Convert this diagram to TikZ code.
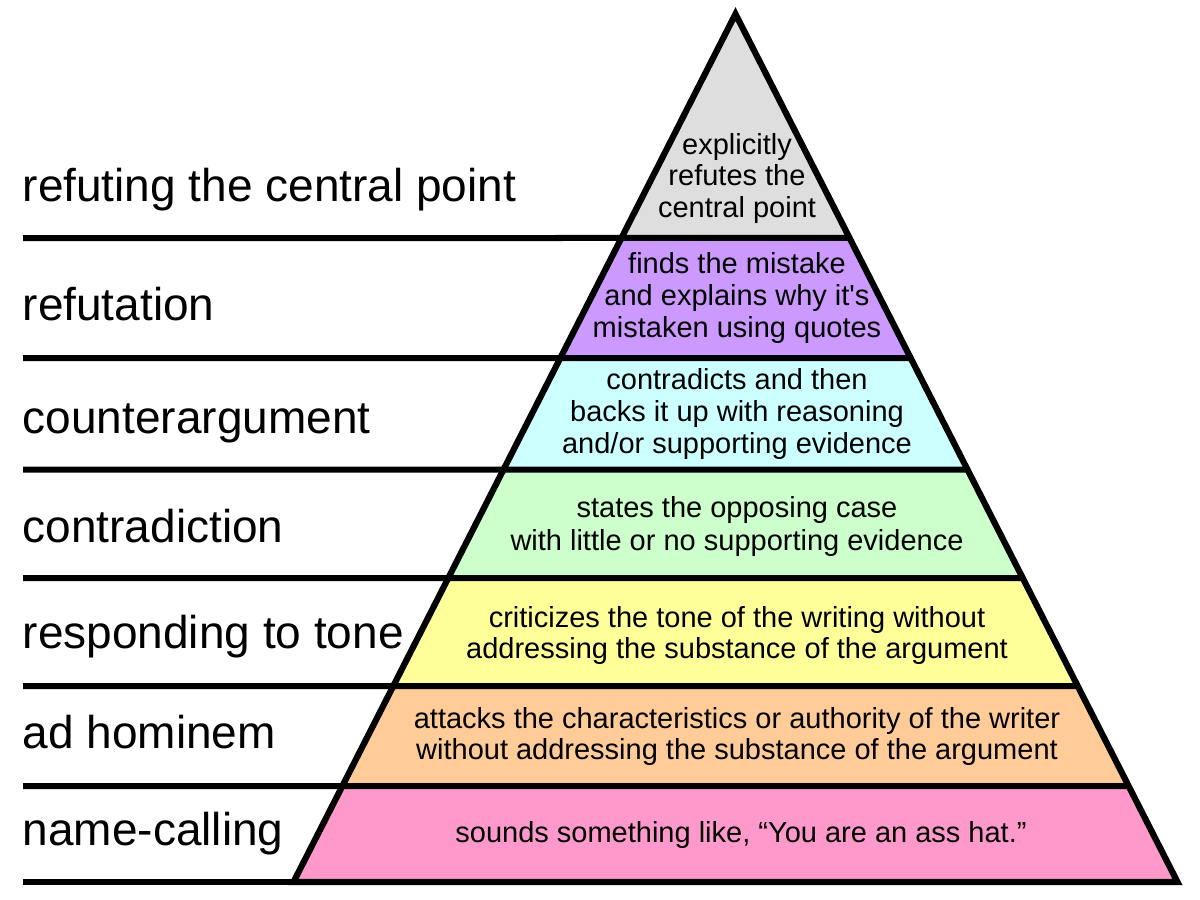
\documentclass[tikz,border=0pt]{standalone}
\usepackage{fontspec}
\setmainfont{Liberation Sans}
\usetikzlibrary{calc}
\definecolor{cgray}{HTML}{DEDEDE}
\definecolor{cpurple}{HTML}{CC99FF}
\definecolor{ccyan}{HTML}{CCFFFF}
\definecolor{cgreen}{HTML}{CCFFCC}
\definecolor{cyellow}{HTML}{FFFF99}
\definecolor{corange}{HTML}{FFCC99}
\definecolor{cpink}{HTML}{FF99CC}
\tikzset{
  rule/.style={line width=6pt, line cap=butt},
  outline/.style={line width=6.2pt, line join=miter},
  lefttext/.style={anchor=base west, inner sep=0pt, font=\fontsize{46}{54}\selectfont},
  intext/.style={anchor=base, inner sep=0pt, font=\fontsize{29}{32}\selectfont},
}
\begin{document}
\begin{tikzpicture}[x=1pt,y=-1pt]
\useasboundingbox[fill=white] (0,0) rectangle (1200,900);
\coordinate (A) at (735.5,14);
\coordinate (BL) at (293.5,882);
\coordinate (BR) at (1177.5,882);
% boundaries on left and right edges
\coordinate (L1) at ($(A)!0.25806!(BL)$); \coordinate (R1) at ($(A)!0.25806!(BR)$);
\coordinate (L2) at ($(A)!0.39631!(BL)$); \coordinate (R2) at ($(A)!0.39631!(BR)$);
\coordinate (L3) at ($(A)!0.52477!(BL)$); \coordinate (R3) at ($(A)!0.52477!(BR)$);
\coordinate (L4) at ($(A)!0.64977!(BL)$); \coordinate (R4) at ($(A)!0.64977!(BR)$);
\coordinate (L5) at ($(A)!0.77419!(BL)$); \coordinate (R5) at ($(A)!0.77419!(BR)$);
\coordinate (L6) at ($(A)!0.88940!(BL)$); \coordinate (R6) at ($(A)!0.88940!(BR)$);
% left ends of rules
\coordinate (S1) at (23,238);
\coordinate (S2) at (23,358);
\coordinate (S3) at (23,469.5);
\coordinate (S4) at (23,578);
\coordinate (S5) at (23,686);
\coordinate (S6) at (23,786);
\coordinate (S7) at (23,882);
% bands
\fill[cgray] (A) -- (R1) -- (L1) -- cycle;
\fill[cpurple] (L1) -- (R1) -- (R2) -- (L2) -- cycle;
\fill[ccyan] (L2) -- (R2) -- (R3) -- (L3) -- cycle;
\fill[cgreen] (L3) -- (R3) -- (R4) -- (L4) -- cycle;
\fill[cyellow] (L4) -- (R4) -- (R5) -- (L5) -- cycle;
\fill[corange] (L5) -- (R5) -- (R6) -- (L6) -- cycle;
\fill[cpink] (L6) -- (R6) -- (BR) -- (BL) -- cycle;
% rules
\draw[rule] (S1) -- (R1);
\draw[rule] (S2) -- (R2);
\draw[rule] (S3) -- (R3);
\draw[rule] (S4) -- (R4);
\draw[rule] (S5) -- (R5);
\draw[rule] (S6) -- (R6);
\draw[rule] (S7) -- (BR);
% outline
\draw[outline] (A) -- (BL) -- (BR) -- cycle;
% left labels
\node[lefttext] (t1) at (22.5,201) {refuting the central point};
\node[lefttext] (t2) at (22.5,320) {refutation};
\node[lefttext] (t3) at (22.5,433) {counterargument};
\node[lefttext] (t4) at (22.5,542) {contradiction};
\node[lefttext] (t5) at (22.5,648) {responding to tone};
\node[lefttext] (t6) at (22.5,748) {ad hominem};
\node[lefttext] (t7) at (22.5,845) {name-calling};
% inner texts
\node[intext] (g1) at (737,154) {explicitly};
\node[intext] (g2) at (737,185) {refutes the};
\node[intext] (g3) at (737,217) {central point};
\node[intext] (p1) at (737,273) {finds the mistake};
\node[intext] (p2) at (737,305) {and explains why it\textquotesingle s};
\node[intext] (p3) at (737,337) {mistaken using quotes};
\node[intext] (c1) at (737,389) {contradicts and then};
\node[intext] (c2) at (737,421) {backs it up with reasoning};
\node[intext] (c3) at (737,453) {and/or supporting evidence};
\node[intext] (n1) at (737,517) {states the opposing case};
\node[intext] (n2) at (737,550) {with little or no supporting evidence};
\node[intext] (y1) at (737,627) {criticizes the tone of the writing without};
\node[intext] (y2) at (737,658) {addressing the substance of the argument};
\node[intext] (o1) at (737,728) {attacks the characteristics or authority of the writer};
\node[intext] (o2) at (737,759) {without addressing the substance of the argument};
\node[intext] (k1) at (741,842) {sounds something like, “You are an ass hat.”};
\end{tikzpicture}
\end{document}
